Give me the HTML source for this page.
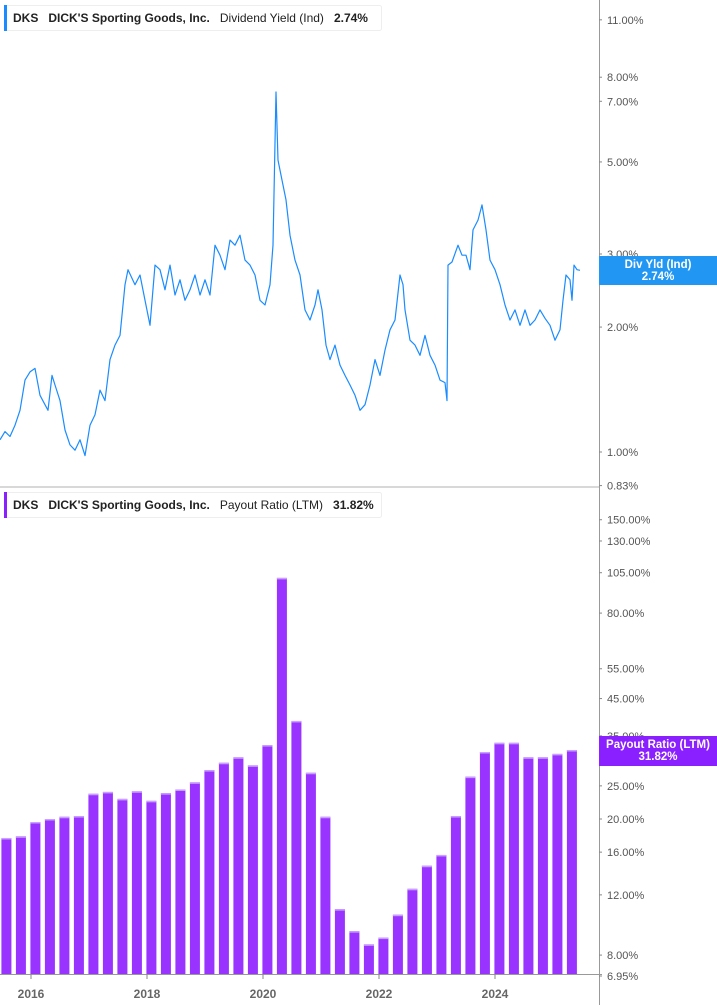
<!DOCTYPE html>
<html><head><meta charset="utf-8"><style>
body{margin:0;background:#fff;font-family:"Liberation Sans",sans-serif;}
svg{display:block}
</style></head><body>
<svg id="c" width="717" height="1005" xmlns="http://www.w3.org/2000/svg" font-family="Liberation Sans, sans-serif"></svg>
<script>
// Dividend yield (percent), dates as decimal years
const yldDates=[2015.466,2015.552,2015.638,2015.724,2015.810,2015.897,2015.983,2016.069,2016.155,2016.241,2016.293,2016.362,2016.414,2016.500,2016.586,2016.672,2016.759,2016.845,2016.931,2017.017,2017.103,2017.190,2017.276,2017.362,2017.448,2017.534,2017.621,2017.672,2017.793,2017.879,2017.966,2018.052,2018.138,2018.224,2018.310,2018.397,2018.483,2018.569,2018.655,2018.741,2018.828,2018.914,2019.000,2019.086,2019.172,2019.259,2019.345,2019.431,2019.517,2019.603,2019.690,2019.776,2019.862,2019.948,2020.034,2020.121,2020.172,2020.224,2020.259,2020.328,2020.397,2020.466,2020.552,2020.638,2020.724,2020.810,2020.897,2020.948,2021.017,2021.086,2021.155,2021.241,2021.328,2021.414,2021.500,2021.586,2021.672,2021.759,2021.845,2021.931,2022.017,2022.103,2022.190,2022.276,2022.362,2022.414,2022.448,2022.534,2022.621,2022.707,2022.793,2022.879,2022.966,2023.052,2023.138,2023.172,2023.190,2023.259,2023.362,2023.431,2023.500,2023.569,2023.621,2023.707,2023.776,2023.845,2023.914,2024.000,2024.086,2024.172,2024.259,2024.345,2024.431,2024.517,2024.603,2024.690,2024.776,2024.862,2024.948,2025.034,2025.121,2025.172,2025.224,2025.293,2025.328,2025.362,2025.414,2025.466];
const yldVals=[1.07,1.12,1.09,1.16,1.26,1.49,1.56,1.59,1.37,1.30,
1.26,1.53,1.45,1.33,1.13,1.04,1.01,1.07,0.98,1.16,
1.23,1.41,1.33,1.67,1.81,1.91,2.53,2.75,2.53,2.67,
2.32,2.02,2.82,2.75,2.46,2.82,2.39,2.60,2.32,2.46,
2.67,2.39,2.60,2.39,3.15,2.98,2.75,3.24,3.15,3.33,
2.90,2.82,2.67,2.32,2.26,2.53,3.15,7.37,5.05,4.52,
4.05,3.33,2.90,2.67,2.20,2.08,2.26,2.46,2.20,1.81,
1.67,1.81,1.62,1.53,1.45,1.37,1.26,1.30,1.45,1.67,
1.53,1.76,1.97,2.08,2.67,2.53,2.20,1.86,1.81,1.71,
1.91,1.71,1.62,1.49,1.47,1.33,2.82,2.87,3.15,2.98,
2.98,2.75,3.43,3.62,3.94,3.43,2.90,2.75,2.53,2.26,
2.08,2.20,2.02,2.20,2.02,2.08,2.20,2.10,2.02,1.86,
1.97,2.32,2.67,2.60,2.32,2.82,2.75,2.74];
// Payout ratio (percent), quarterly
const payQuarters=["2015Q3","2015Q4","2016Q1","2016Q2","2016Q3","2016Q4","2017Q1","2017Q2","2017Q3","2017Q4","2018Q1","2018Q2","2018Q3","2018Q4","2019Q1","2019Q2","2019Q3","2019Q4","2020Q1","2020Q2","2020Q3","2020Q4","2021Q1","2021Q2","2021Q3","2021Q4","2022Q1","2022Q2","2022Q3","2022Q4","2023Q1","2023Q2","2023Q3","2023Q4","2024Q1","2024Q2","2024Q3","2024Q4","2025Q1","2025Q2"];
const payVals=[17.6,17.8,19.6,20.0,20.3,20.4,23.7,24.0,22.9,24.1,22.6,23.8,24.4,25.6,27.8,29.2,30.3,28.7,32.9,101.4,38.7,27.3,20.3,10.9,9.4,8.6,9.0,10.5,12.5,14.6,15.7,20.4,26.6,31.4,33.4,33.4,30.3,30.3,31.0,31.82];
const yTicksTop=[11,8,7,5,3,2,1,0.83];
const yTicksBot=[150,130,105,80,55,45,35,25,20,16,12,8,6.95];
const xYears=[2016,2018,2020,2022,2024];

const NS="http://www.w3.org/2000/svg";
const svg=document.getElementById('c');
function el(t,a,p){const e=document.createElementNS(NS,t);for(const k in a)e.setAttribute(k,a[k]);(p||svg).appendChild(e);return e;}
const xD=d=>31+(d-2016)*58;
const yTop=v=>452-415*Math.log10(v);
const yBot=v=>819-342*Math.log10(v/20);
const qDate=q=>{const y=+q.slice(0,4),n=+q.slice(5);return y+(n-1)*0.25+0.076;};

let s=el('rect',{x:0,y:486,width:599,height:2,fill:'#d8d8d8'});

let a=el('line',{x1:599.5,y1:0,x2:599.5,y2:1005,stroke:'#999','stroke-width':1});

let xb=el('line',{x1:0,y1:974.5,x2:602,y2:974.5,stroke:'#999','stroke-width':1});


let pts=yldDates.map((d,i)=>xD(d).toFixed(1)+','+yTop(yldVals[i]).toFixed(1)).join(' ');
let pl=el('polyline',{points:pts,fill:'none',stroke:'#1a8cff','stroke-width':1.2,'stroke-linejoin':'round'});


payQuarters.forEach((q,i)=>{
  const cx=xD(qDate(q)),y=yBot(payVals[i]);
  const r=el('rect',{x:cx-5,y:y,width:10,height:974-y,fill:'#9933ff'});
  
  
  el('rect',{x:cx-5,y:y,width:10,height:1.5,fill:'#c9a0ff'});
});

yTicksTop.forEach(v=>{const y=yTop(v);
  el('line',{x1:599,y1:y,x2:602,y2:y,stroke:'#888'});
  const t=el('text',{x:607,y:y+4,'font-size':11,fill:'#555'});t.textContent=v.toFixed(2)+'%';
  });
yTicksBot.forEach(v=>{const y=yBot(v);
  el('line',{x1:599,y1:y,x2:602,y2:y,stroke:'#888'});
  const t=el('text',{x:607,y:y+4,'font-size':11,fill:'#555'});t.textContent=v.toFixed(2)+'%';
  });
xYears.forEach(yr=>{const x=xD(yr);
  el('line',{x1:x,y1:974,x2:x,y2:979,stroke:'#888'});
  const t=el('text',{x:x,y:998,'font-size':12,'font-weight':'bold',fill:'#666','text-anchor':'middle'});t.textContent=yr;
  });

function tag(y,h,col,l1,l2,name){
  const g=el('g',{});
  el('rect',{x:599,y:y,width:118,height:h,fill:col},g);
  const t1=el('text',{x:658,y:y+12,'font-size':11.5,'font-weight':'bold',fill:'#fff','text-anchor':'middle'},g);t1.textContent=l1;
  const t2=el('text',{x:658,y:y+24,'font-size':11.5,'font-weight':'bold',fill:'#fff','text-anchor':'middle'},g);t2.textContent=l2;
}
tag(256,29,'#2196f3','Div Yld (Ind)','2.74%','div-yield-price-tag');
tag(736,30,'#8a1fff','Payout Ratio (LTM)','31.82%','payout-price-tag');

function legend(y,col,label,val,name){
  const g=el('g',{});
  el('rect',{x:4.5,y:y+0.5,width:377,height:25,fill:'#fff',stroke:'#eee',rx:2},g);
  el('rect',{x:4,y:y,width:3,height:26,fill:col},g);
  const t=el('text',{x:13,y:y+17,'font-size':12,'font-weight':'bold',fill:'#222'},g);
  t.innerHTML='DKS<tspan dx="10">DICK\'S Sporting Goods, Inc.</tspan><tspan dx="10" font-weight="normal">'+label+'</tspan><tspan dx="10">'+val+'</tspan>';
}
legend(5,'#1a8cff','Dividend Yield (Ind)','2.74%','dividend-yield-legend');
legend(492,'#8a1fff','Payout Ratio (LTM)','31.82%','payout-ratio-legend');
</script>
</body></html>
